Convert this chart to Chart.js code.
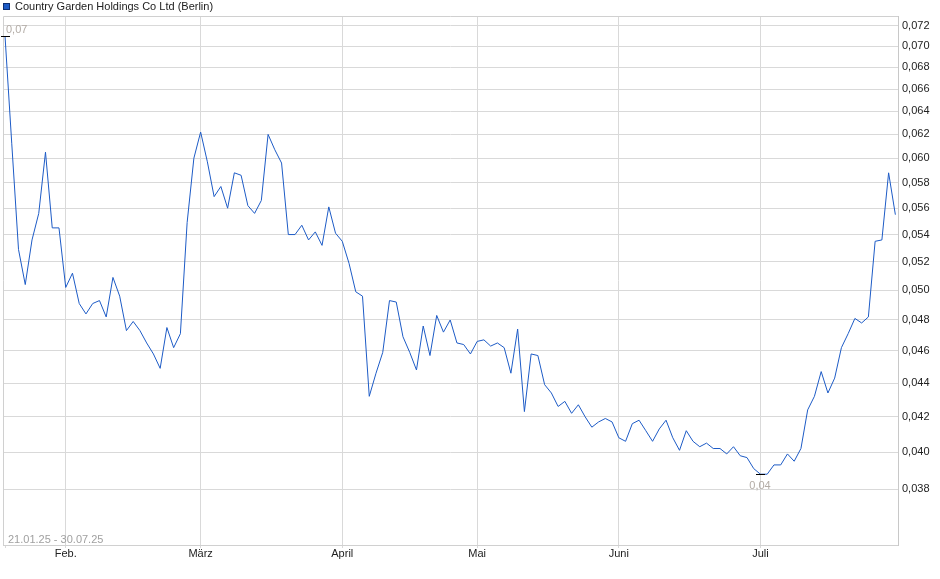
<!DOCTYPE html>
<html>
<head>
<meta charset="utf-8">
<title>Country Garden Holdings Co Ltd (Berlin)</title>
<script src="https://cdn.jsdelivr.net/npm/chart.js@4.4.1/dist/chart.umd.min.js"></script>
<style>
    html, body { margin: 0; padding: 0; background: #fff; }
    #wrap { width: 940px; height: 579px; }
</style>
</head>
<body>
<div id="wrap"><canvas id="priceChart" width="940" height="579"></canvas></div>
<script>
// closing prices per trading day, 21.01.25 .. 30.07.25 (EUR)
var prices = [
    0.0710, 0.0612, 0.0529, 0.0504, 0.0536, 0.0556, 0.0605, 0.0545, 0.0545,
    0.0502, 0.0512, 0.0491, 0.0484, 0.0491, 0.0493, 0.0482, 0.0509, 0.0496, 0.0473,
    0.0479, 0.0473, 0.0465, 0.0458, 0.0449, 0.0475, 0.0462, 0.0471, 0.0549, 0.0600,
    0.0622, 0.0597, 0.0569, 0.0577, 0.0560, 0.0588, 0.0586, 0.0562, 0.0556, 0.0566,
    0.0620, 0.0607, 0.0596, 0.0540, 0.0540, 0.0547, 0.0536, 0.0542, 0.0532, 0.0561,
    0.0541, 0.0535, 0.0519, 0.0499, 0.0496, 0.0432, 0.0446, 0.0459, 0.0493, 0.0492,
    0.0469, 0.0459, 0.0448, 0.0476, 0.0457, 0.0483, 0.0472, 0.0480, 0.0465, 0.0464,
    0.0458, 0.0466, 0.0467, 0.0463, 0.0465, 0.0462, 0.0446, 0.0474, 0.0423, 0.0458,
    0.0457, 0.0439, 0.0434, 0.0426, 0.0429, 0.0422, 0.0427, 0.0420, 0.0414, 0.0417,
    0.0419, 0.0417, 0.0408, 0.0406, 0.0416, 0.0418, 0.0412, 0.0406, 0.0413, 0.0418,
    0.0408, 0.0401, 0.0412, 0.0406, 0.0403, 0.0405, 0.0402, 0.0402, 0.0399, 0.0403,
    0.0398, 0.0397, 0.0391, 0.0388, 0.0388, 0.0393, 0.0393, 0.0399, 0.0395, 0.0402,
    0.0424, 0.0432, 0.0447, 0.0434, 0.0443, 0.0462, 0.0471, 0.0481, 0.0478, 0.0482,
    0.0535, 0.0536, 0.0588, 0.0555
];
// first trading day of each month, as index into prices
var monthStart = [9, 29, 50, 70, 91, 112];
var monthNames = ['Feb.', 'März', 'April', 'Mai', 'Juni', 'Juli'];
var yTicks = [0.038, 0.040, 0.042, 0.044, 0.046, 0.048, 0.050, 0.052, 0.054,
    0.056, 0.058, 0.060, 0.062, 0.064, 0.066, 0.068, 0.070, 0.072];
var seriesName = 'Country Garden Holdings Co Ltd (Berlin)';
var rangeText = '21.01.25 - 30.07.25';

(function () {
    'use strict';

    var FONT = '"Liberation Sans", Arial, sans-serif';
    var LINE = '#1d5bc6';
    var GRID = '#d9d9d9';

    Chart.defaults.font.family = FONT;
    Chart.defaults.font.size = 11;
    Chart.defaults.color = '#222';

    function comma(v, d) {
        return v.toFixed(d).replace('.', ',');
    }

    var points = prices.map(function (p, i) {
        return { x: i, y: p };
    });

    // extremes get a small marker and a rounded label
    var hi = 0, lo = 0;
    prices.forEach(function (p, i) {
        if (p > prices[hi]) hi = i;
        if (p < prices[lo]) lo = i;
    });

    var extras = {
        id: 'extras',
        afterDraw: function (chart) {
            var ctx = chart.ctx;
            var a = chart.chartArea;
            var xs = chart.scales.x, ys = chart.scales.y;
            ctx.save();

            // frame top + left (axes draw right + bottom)
            ctx.strokeStyle = '#d0d0d0';
            ctx.lineWidth = 1;
            ctx.beginPath();
            ctx.moveTo(a.left + 0.5, a.bottom);
            ctx.lineTo(a.left + 0.5, a.top + 0.5);
            ctx.lineTo(a.right, a.top + 0.5);
            ctx.stroke();

            // legend
            ctx.fillStyle = LINE;
            ctx.fillRect(3, 3, 7, 7);
            ctx.strokeStyle = '#0d2f73';
            ctx.strokeRect(3.5, 3.5, 6, 6);
            ctx.fillStyle = '#222';
            ctx.font = '11px ' + FONT;
            ctx.textBaseline = 'middle';
            ctx.textAlign = 'left';
            ctx.fillText(seriesName, 15, 7);

            // date range
            ctx.fillStyle = '#a0a0a0';
            ctx.textBaseline = 'alphabetic';
            ctx.fillText(rangeText, a.left + 5, a.bottom - 2);

            // high / low markers
            function mark(i, above) {
                var px = Math.round(xs.getPixelForValue(i));
                var py = Math.round(ys.getPixelForValue(prices[i])) + 0.5;
                ctx.strokeStyle = '#000';
                ctx.beginPath();
                ctx.moveTo(px - 4, py);
                ctx.lineTo(px + 5, py);
                ctx.stroke();
                var txt = comma(prices[i], 2);
                var w = ctx.measureText(txt).width;
                var cx = Math.max(px, a.left + 3 + w / 2);
                ctx.fillStyle = '#b3aca6';
                ctx.textAlign = 'center';
                if (above) {
                    ctx.textBaseline = 'alphabetic';
                    ctx.fillText(txt, cx, py - 4);
                } else {
                    ctx.textBaseline = 'top';
                    ctx.fillText(txt, cx, py + 6);
                }
            }
            mark(hi, true);
            mark(lo, false);
            ctx.restore();
        }
    };

    new Chart(document.getElementById('priceChart'), {
        type: 'line',
        data: {
            datasets: [{
                label: seriesName,
                data: points,
                borderColor: LINE,
                borderWidth: 1,
                pointRadius: 0,
                tension: 0,
                fill: false
            }]
        },
        options: {
            responsive: false,
            animation: false,
            layout: { padding: { top: 16, left: 3, right: 0, bottom: 0 } },
            plugins: {
                legend: { display: false },
                tooltip: { enabled: false }
            },
            scales: {
                x: {
                    type: 'linear',
                    bounds: 'data',
                    min: -0.3,
                    max: 132.39,
                    afterBuildTicks: function (s) {
                        s.ticks = [{ value: 0 }].concat(monthStart.map(function (v) {
                            return { value: v };
                        }));
                    },
                    afterFit: function (s) { s.height = 34; },
                    ticks: {
                        autoSkip: false,
                        maxRotation: 0,
                        padding: -1,
                        color: '#222',
                        callback: function (v) {
                            var k = monthStart.indexOf(v);
                            return k < 0 ? '' : monthNames[k];
                        }
                    },
                    grid: {
                        color: function (c) {
                            return c.tick && c.tick.value === 0 ? 'rgba(0,0,0,0)' : GRID;
                        },
                        tickColor: GRID,
                        tickLength: 3
                    },
                    border: { display: true, color: '#d0d0d0' }
                },
                y: {
                    type: 'logarithmic',
                    position: 'right',
                    bounds: 'data',
                    min: 0.03519,
                    max: 0.0730,
                    afterBuildTicks: function (s) {
                        s.ticks = yTicks.map(function (v) {
                            return { value: v };
                        });
                    },
                    afterFit: function (s) { s.width = 42; },
                    ticks: {
                        autoSkip: false,
                        padding: 4,
                        color: '#222',
                        callback: function (v) { return comma(v, 3); }
                    },
                    grid: { color: GRID, drawTicks: false },
                    border: { display: true, color: '#c8c8c8' }
                }
            }
        },
        plugins: [extras]
    });
})();
</script>
</body>
</html>
